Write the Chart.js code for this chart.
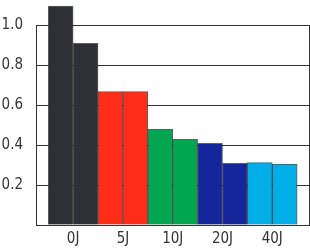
<!DOCTYPE html>
<html lang="en">
<head>
  <meta charset="UTF-8">
  <title>Energy bars</title>
  <script src="https://cdn.jsdelivr.net/npm/chart.js"></script>
  <style>
    html, body { margin: 0; padding: 0; background: #fff; }
    .chart-box { width: 310px; height: 248px; }
  </style>
</head>
<body>
  <div class="chart-box"><canvas id="barChart"></canvas></div>

  <script>
    const categories = ['0J', '5J', '10J', '20J', '40J'];
    const firstBar = [1.095, 0.667, 0.478, 0.408, 0.312];
    const secondBar = [0.908, 0.667, 0.428, 0.308, 0.303];
    const colors = ['#2f3036', '#ff2c18', '#00a650', '#15259b', '#00aee8'];
    const yTicks = [0.2, 0.4, 0.6, 0.8, 1.0];

    const font = { family: "'DejaVu Sans Condensed', 'DejaVu Sans', sans-serif", size: 15 };
    const lineColor = '#333';

    function makeDataset(values) {
      return {
        data: values.map((v, i) => ({ x: i, y: v })),
        backgroundColor: colors,
        borderColor: 'rgba(40,40,40,0.75)',
        borderWidth: 1,
        categoryPercentage: 1,
        barPercentage: 1,
        clip: false
      };
    }

    new Chart(document.getElementById('barChart'), {
      type: 'bar',
      data: {
        datasets: [makeDataset(firstBar), makeDataset(secondBar)]
      },
      options: {
        responsive: true,
        maintainAspectRatio: false,
        animation: false,
        layout: { padding: { top: 25, right: 1, left: 0, bottom: 0 } },
        plugins: { legend: { display: false }, tooltip: { enabled: false } },
        scales: {
          x: {
            type: 'linear',
            offset: false,
            min: -0.746,
            max: 4.738,
            afterBuildTicks: s => { s.ticks = categories.map((c, i) => ({ value: i })); },
            afterFit: s => { s.height = 23; },
            grid: { display: false, drawTicks: false },
            border: { display: true, color: lineColor, width: 1 },
            ticks: {
              padding: 5,
              color: '#333',
              font: font,
              maxRotation: 0,
              autoSkip: false,
              callback: v => categories[v]
            }
          },
          y: {
            min: 0,
            max: 1,
            afterBuildTicks: s => { s.ticks = [0].concat(yTicks).map(v => ({ value: v })); },
            afterFit: s => { s.width = 36; },
            grid: { color: lineColor, lineWidth: 1, drawTicks: false },
            border: { display: true, color: lineColor, width: 1 },
            ticks: {
              padding: 13,
              color: '#333',
              font: font,
              callback: v => (v === 0 ? '' : v.toFixed(1))
            }
          },
          y2: {
            position: 'right',
            min: 0,
            max: 1,
            grid: { display: false, drawTicks: false },
            border: { display: true, color: lineColor, width: 1 },
            ticks: { display: false }
          }
        }
      }
    });
  </script>
</body>
</html>
